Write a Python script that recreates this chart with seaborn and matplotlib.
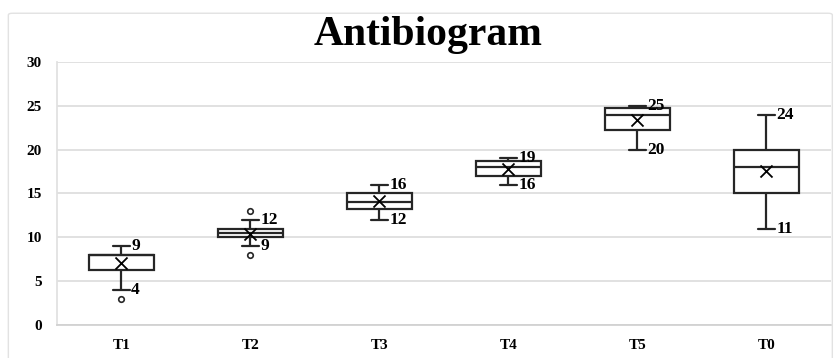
import numpy as np
import pandas as pd
import matplotlib
matplotlib.use("Agg")
import matplotlib.pyplot as plt
import seaborn as sns
from matplotlib.patches import FancyBboxPatch

# values
groups = ["T1", "T2", "T3", "T4", "T5", "T0"]
whisk_lo = [4, 9, 12, 16, 20, 11]
q1 = [6.25, 10, 13.2, 17, 22.25, 15]
median = [8, 10.5, 14, 18, 24, 18]
q3 = [8, 11, 15, 18.75, 24.75, 20]
whisk_hi = [9, 12, 16, 19, 25, 24]
means = [7.05, 10.4, 14.2, 17.8, 23.4, 17.6]
outlier_groups = ["T1", "T2", "T2"]
outlier_vals = [3, 13, 8]

sns.set_theme(style="white")
plt.rcParams["font.family"] = ["Liberation Serif", "DejaVu Serif"]
plt.rcParams["font.weight"] = "bold"
plt.rcParams["text.color"] = "black"

# five-number summaries as long-form rows, so the box quartiles land on them
rows = []
for g, a, b, c, d, e in zip(groups, whisk_lo, q1, median, q3, whisk_hi):
    for v in (a, b, c, d, e):
        rows.append({"group": g, "value": v})
df = pd.DataFrame(rows)
mean_df = pd.DataFrame({"group": groups, "value": means})
out_df = pd.DataFrame({"group": outlier_groups, "value": outlier_vals})

fig = plt.figure(figsize=(8.34, 3.58), dpi=100)
ax = fig.add_axes([0.0683, 0.0922, 0.928, 0.7346])

line_c = "#262626"
sns.boxplot(data=df, x="group", y="value", order=groups, whis=(0, 100),
            width=0.5, color="white", linecolor=line_c, linewidth=1.6,
            capwidths=0.13, ax=ax, zorder=3)
sns.scatterplot(data=mean_df, x="group", y="value", marker="x", s=75,
                color="black", linewidth=1.3, ax=ax, zorder=4)
sns.scatterplot(data=out_df, x="group", y="value", marker="o", s=16,
                facecolor="white", edgecolor=line_c, linewidth=1.2,
                ax=ax, zorder=4)

for i, (lo, hi) in enumerate(zip(whisk_lo, whisk_hi)):
    ax.text(i + 0.075, hi, str(hi), ha="left", va="center", fontsize=12.5,
            fontweight="bold", color="black", zorder=5)
    ax.text(i + 0.075, lo, str(lo), ha="left", va="center", fontsize=12.5,
            fontweight="bold", color="black", zorder=5)

ax.set_ylim(0, 30)
ax.set_xlim(-0.5, 5.5)
ax.set_yticks(range(0, 31, 5))
ax.yaxis.grid(True, color="#dcdcdc", linewidth=1.2)
ax.set_axisbelow(True)
ax.set_xlabel("")
ax.set_ylabel("")
for s in ["top", "right"]:
    ax.spines[s].set_visible(False)
ax.spines["left"].set_color("#e0e0e0")
ax.spines["bottom"].set_color("#d0d0d0")
ax.tick_params(axis="both", length=0, labelsize=11, colors="black")
ax.tick_params(axis="y", pad=11)
ax.tick_params(axis="x", pad=10)
for lab in ax.get_xticklabels() + ax.get_yticklabels():
    lab.set_fontweight("bold")

fig.text(0.513, 0.874, "Antibiogram", ha="center", va="baseline",
         fontsize=30, fontweight="bold", color="black")

fig.patches.append(FancyBboxPatch((0.01, -0.05), 0.988, 1.013,
                                  boxstyle="round,pad=0,rounding_size=0.005",
                                  transform=fig.transFigure, fill=False,
                                  edgecolor="#e2e2e2", linewidth=1.0))

fig.savefig("out.png", dpi=100)
